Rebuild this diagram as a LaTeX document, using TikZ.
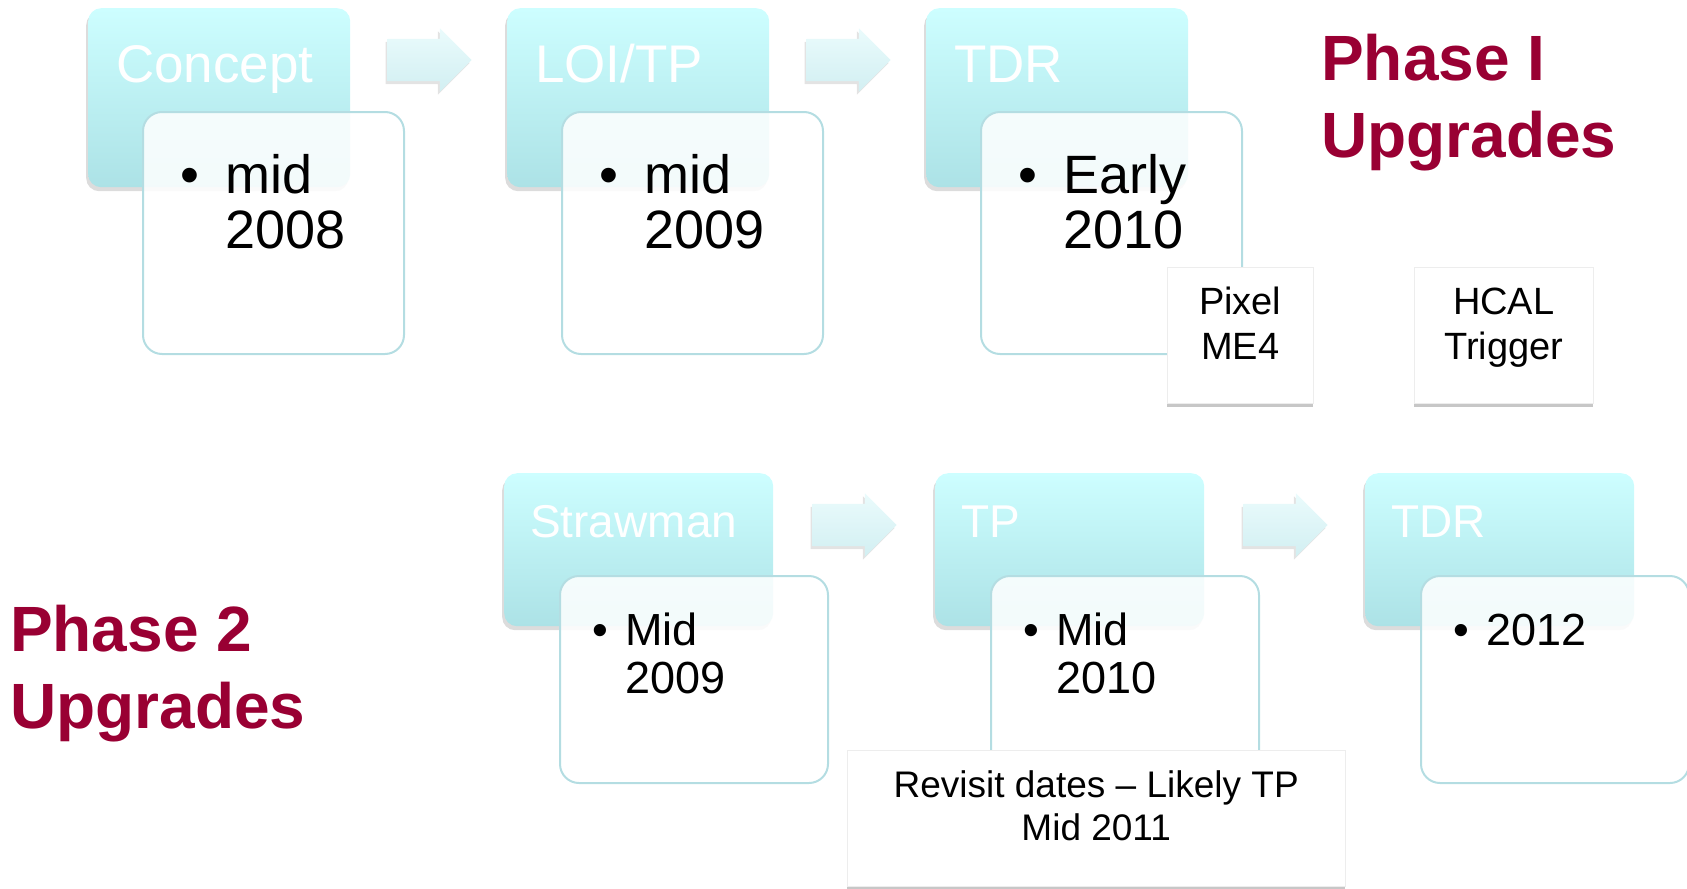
\documentclass[tikz,border=0pt]{standalone}
\usepackage{fontspec}
\setmainfont{Liberation Sans}
\usetikzlibrary{positioning, shapes.arrows, shadows}

\definecolor{stagetop}{RGB}{205,254,255}
\definecolor{stagebot}{RGB}{172,226,230}
\definecolor{dateline}{RGB}{180,221,226}
\definecolor{arrowtop}{RGB}{234,251,252}
\definecolor{arrowbot}{RGB}{210,239,242}
\definecolor{phasered}{RGB}{153,0,51}

% one-line-per-row blocks whose baseline is the first row
\newcommand{\lstack}[1]{\begin{tabular}[t]{@{}l@{}}#1\end{tabular}}
\newcommand{\cstack}[1]{\begin{tabular}[t]{@{}c@{}}#1\end{tabular}}

\begin{document}
\begin{tikzpicture}[x=1pt, y=-1pt,
  stage/.style={rectangle, rounded corners=13pt, top color=stagetop, bottom color=stagebot,
    drop shadow={shadow xshift=-2pt, shadow yshift=-4pt, opacity=.28}, anchor=north west, inner sep=0pt},
  toprow/.style={stage, minimum width=262pt, minimum height=179pt},
  botrow/.style={stage, minimum width=269pt, minimum height=153pt},
  datebox/.style={rectangle, rounded corners=19pt, draw=dateline, line width=2pt, fill=white,
    fill opacity=.86, anchor=north west, inner sep=0pt},
  stagearrow/.style={single arrow, single arrow head extend=10.5pt, single arrow head indent=0pt,
    minimum height=84pt, inner xsep=0pt, inner ysep=21pt, anchor=tail,
    top color=arrowtop, bottom color=arrowbot,
    drop shadow={shadow xshift=-2pt, shadow yshift=-3pt, opacity=.22}},
  notebox/.style={rectangle, draw=black!7, fill=white, inner sep=0pt, anchor=north west,
    drop shadow={shadow xshift=0pt, shadow yshift=-4pt, opacity=1, fill=black!22}},
  title/.style={text=white, anchor=base west, inner sep=0pt},
  dates/.style={text=black, anchor=base west, inner sep=0pt},
  note/.style={anchor=base, inner sep=0pt},
  phase/.style={text=phasered, anchor=base west, inner sep=0pt, font=\bfseries\fontsize{64}{77}\selectfont},
]
\useasboundingbox (0,0) rectangle (1687,889);

% Phase I row
\foreach \x/\n/\t/\a/\b in {88/concept/Concept/mid/2008, 507/loi/{LOI/TP}/mid/2009, 926/tdr/TDR/Early/2010}{
  \node[toprow] (\n) at (\x,8) {};
  \node[datebox, minimum width=261pt, minimum height=242pt] (\n-d) at ([xshift=54pt, yshift=-103pt]\n.north west) {};
  \node[title, font=\fontsize{53}{60}\selectfont] (\n-t) at ([xshift=28pt, yshift=-74pt]\n.north west) {\t};
  \node[dates, font=\fontsize{54}{55}\selectfont] (\n-x) at ([xshift=83pt, yshift=-82pt]\n-d.north west)
    {\lstack{\llap{\textbullet\hspace{26pt}}\a\\\b}};
}
\node[stagearrow] (a1) at ([xshift=37pt, yshift=-52pt]concept.north east) {};
\node[stagearrow] (a2) at ([xshift=37pt, yshift=-52pt]loi.north east) {};

% Phase 2 row
\foreach \x/\n/\t/\a/\b in {504/straw/Strawman/Mid/2009, 935/tp/TP/Mid/2010, 1365/tdrb/TDR/2012/}{
  \node[botrow] (\n) at (\x,473) {};
  \node[datebox, minimum width=268pt, minimum height=207pt] (\n-d) at ([xshift=55pt, yshift=-102pt]\n.north west) {};
  \node[title, font=\fontsize{46}{52}\selectfont] (\n-t) at ([xshift=26pt, yshift=-64pt]\n.north west) {\t};
  \node[dates, font=\fontsize{45}{48}\selectfont] (\n-x) at ([xshift=66pt, yshift=-70pt]\n-d.north west)
    {\lstack{\llap{\textbullet\hspace{17pt}}\a\\\b}};
}
\node[stagearrow] (a3) at ([xshift=39pt, yshift=-52pt]straw.north east) {};
\node[stagearrow] (a4) at ([xshift=39pt, yshift=-52pt]tp.north east) {};

% side notes
\node[notebox, minimum width=146pt, minimum height=136pt] (pixel) at (1167,267) {};
\node[notebox, minimum width=179pt, minimum height=136pt] (hcal) at (1414,267) {};
\node[notebox, minimum width=498pt, minimum height=136pt] (revisit) at (847,750) {};
\node[note, font=\fontsize{38}{45}\selectfont] (pixel-t) at ([yshift=-47pt]pixel.north) {\cstack{Pixel\\ME4}};
\node[note, font=\fontsize{38}{45}\selectfont] (hcal-t) at ([yshift=-47pt]hcal.north) {\cstack{HCAL\\Trigger}};
\node[note, font=\fontsize{37}{43}\selectfont] (revisit-t) at ([yshift=-47pt]revisit.north)
  {\cstack{Revisit dates -- Likely TP\\Mid 2011}};

\node[phase] (phase1) at (1321,80) {\lstack{Phase I\\Upgrades}};
\node[phase] (phase2) at (10,651) {\lstack{Phase 2\\Upgrades}};

\end{tikzpicture}
\end{document}
